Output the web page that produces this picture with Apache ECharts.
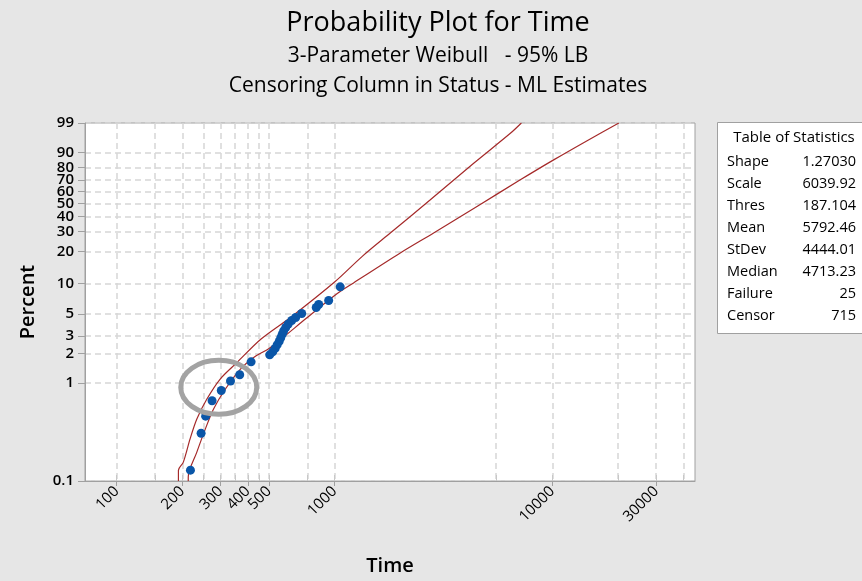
<!DOCTYPE html>
<html><head><meta charset="utf-8">
<script src="https://cdn.jsdelivr.net/npm/echarts@6/dist/echarts.min.js"></script>
<style>html,body{margin:0;padding:0;background:#e6e6e6;}#c{width:862px;height:581px;}</style>
</head><body><div id="c"></div>
<script>
// ---- data ----
const failureTimes    = [218, 244, 256, 274, 302, 333, 367, 414, 504, 520, 534, 545, 557, 566, 575, 584, 597, 613, 636, 663, 707, 824, 846, 940, 1062];
const failurePercents = [0.129, 0.308, 0.460, 0.661, 0.841, 1.05, 1.215, 1.643, 1.935, 2.074, 2.249, 2.44, 2.648, 2.871, 3.113, 3.374, 3.658, 3.966, 4.298, 4.603, 5.044, 5.787, 6.20, 6.79, 9.24];
const boundATimes    = [192, 192, 202, 217, 233, 259, 298, 356, 460, 632, 1007, 1341, 1803, 2754, 4355, 6418, 7211];
const boundAPercents = [0.1, 0.129, 0.155, 0.268, 0.428, 0.684, 1.093, 1.613, 2.80, 4.66, 10.41, 18.05, 29.16, 52.93, 83.2, 97.3, 99];
const boundBTimes    = [213, 213, 233, 255, 278, 315, 369, 424, 506, 747, 1026, 1223, 2004, 2851, 4509, 7129, 10140, 14450, 20200];
const boundBPercents = [0.1, 0.11, 0.196, 0.339, 0.542, 0.865, 1.38, 1.813, 2.288, 4.57, 7.9, 10.1, 19.4, 29.2, 47.5, 70.1, 85.5, 95.2, 99];
const xTickLabels = [100, 200, 300, 400, 500, 1000, 10000, 30000];
const xGridValues = [100, 150, 200, 250, 300, 350, 400, 450, 500, 750, 1000, 5500, 10000, 20000, 30000, 40000];
const xRange = [71.5, 45200];
const yTickLabels = [0.1, 1, 2, 3, 5, 10, 20, 30, 40, 50, 60, 70, 80, 90, 99];
const yRange = [0.1, 99];
const statNames  = ['Shape', 'Scale', 'Thres', 'Mean', 'StDev', 'Median', 'Failure', 'Censor'];
const statValues = ['1.27030', '6039.92', '187.104', '5792.46', '4444.01', '4713.23', '25', '715'];
const ellipseCenter = [294, 0.906]; // time, percent

// ---- scales ----
const lg = v => Math.log10(v);
const wb = p => Math.log(-Math.log(1 - p / 100));
const pairs = (xs, ps) => xs.map((x, i) => [lg(x), wb(ps[i])]);
const near = (v, arr, f) => arr.find(a => Math.abs(f(a) - v) < 1e-6);
const FONT = 'Open Sans';

const chart = echarts.init(document.getElementById('c'));
const statGraphics = [
  {type: 'rect', id: 'tbox', shape: {x: 717.5, y: 122.5, width: 146, height: 211}, style: {fill: '#fff', stroke: '#a0a0a0', lineWidth: 1}, z: 10},
  {type: 'text', id: 'thead', x: 794, y: 138, style: {text: 'Table of Statistics', align: 'center', verticalAlign: 'middle', fontSize: 15, fontFamily: FONT, fill: '#000'}, z: 11}
];
statNames.forEach((n, i) => {
  statGraphics.push({type: 'text', id: 'sn' + i, x: 727, y: 161.5 + i * 22.1, style: {text: n, align: 'left', verticalAlign: 'middle', fontSize: 14.5, fontFamily: FONT, fill: '#000'}, z: 11});
  statGraphics.push({type: 'text', id: 'sv' + i, x: 856, y: 161.5 + i * 22.1, style: {text: statValues[i], align: 'right', verticalAlign: 'middle', fontSize: 14.5, fontFamily: FONT, fill: '#000'}, z: 11});
});

const gridLine = {show: true, lineStyle: {color: '#d6d6d6', type: [6, 4], width: 1.5}};
const titleStyle = size => ({fontSize: size, fontWeight: 500, color: '#000', fontFamily: FONT});
const option = {
  backgroundColor: '#e6e6e6',
  animation: false,
  textStyle: {fontFamily: FONT},
  title: [
    {text: 'Probability Plot for Time', left: 433, top: 5, textAlign: 'center', textStyle: titleStyle(27)},
    {text: '3-Parameter Weibull   - 95% LB', left: 433, top: 41, textAlign: 'center', textStyle: titleStyle(21)},
    {text: 'Censoring Column in Status - ML Estimates', left: 433, top: 71, textAlign: 'center', textStyle: titleStyle(21)}
  ],
  grid: {left: 85, top: 123, width: 610, height: 359, show: true, backgroundColor: '#fff', borderColor: '#a0a0a0', borderWidth: 1},
  xAxis: [
    {type: 'value', min: lg(xRange[0]), max: lg(xRange[1]), position: 'bottom',
     name: 'Time', nameLocation: 'middle', nameGap: 75, nameTextStyle: {fontSize: 20, fontWeight: 600, color: '#000', fontFamily: FONT},
     axisLine: {show: true, onZero: false, lineStyle: {color: '#a0a0a0'}},
     axisTick: {show: true, customValues: xTickLabels.map(lg), length: 5, lineStyle: {color: '#a0a0a0'}},
     axisLabel: {customValues: xTickLabels.map(lg), rotate: 45, margin: 8, fontSize: 15, color: '#000', fontFamily: FONT,
                 formatter: v => String(near(v, xTickLabels, lg))},
     splitLine: {show: false}},
    {type: 'value', min: lg(xRange[0]), max: lg(xRange[1]), position: 'bottom',
     axisLine: {show: false, onZero: false}, axisLabel: {show: false},
     axisTick: {show: true, inside: true, customValues: xGridValues.map(lg), length: 6, lineStyle: {color: '#c8c8c8'}},
     splitLine: gridLine}
  ],
  yAxis: {type: 'value', min: wb(yRange[0]), max: wb(yRange[1]),
    name: 'Percent', nameLocation: 'middle', nameGap: 47, nameRotate: 90, nameTextStyle: {fontSize: 20, fontWeight: 600, color: '#000', fontFamily: FONT},
    axisLine: {show: true, onZero: false, lineStyle: {color: '#a0a0a0'}},
    axisTick: {show: true, customValues: yTickLabels.map(wb), length: 7, lineStyle: {color: '#a0a0a0'}},
    axisLabel: {customValues: yTickLabels.map(wb), margin: 11, fontSize: 15, fontWeight: 600, color: '#000', fontFamily: FONT,
                formatter: v => String(near(v, yTickLabels, wb))},
    splitLine: gridLine},
  series: [
    {type: 'line', name: 'Bound A', data: pairs(boundATimes, boundAPercents), smooth: 0.3, showSymbol: false, symbol: 'none', lineStyle: {color: '#a52a2a', width: 1.2}, z: 3},
    {type: 'line', name: 'Bound B', data: pairs(boundBTimes, boundBPercents), smooth: 0.3, showSymbol: false, symbol: 'none', lineStyle: {color: '#a52a2a', width: 1.2}, z: 3},
    {type: 'scatter', name: 'Time', data: pairs(failureTimes, failurePercents), symbolSize: 9, itemStyle: {color: '#0a56a8', opacity: 1}, z: 4}
  ],
  graphic: statGraphics
};
chart.setOption(option);
const ec = chart.convertToPixel({xAxisIndex: 0, yAxisIndex: 0}, [lg(ellipseCenter[0]), wb(ellipseCenter[1])]);
chart.setOption({graphic: [{type: 'ellipse', id: 'ring', shape: {cx: ec[0], cy: ec[1], rx: 38, ry: 27}, style: {fill: 'none', stroke: '#a3a3a3', lineWidth: 5}, z: 20}]});
</script></body></html>
